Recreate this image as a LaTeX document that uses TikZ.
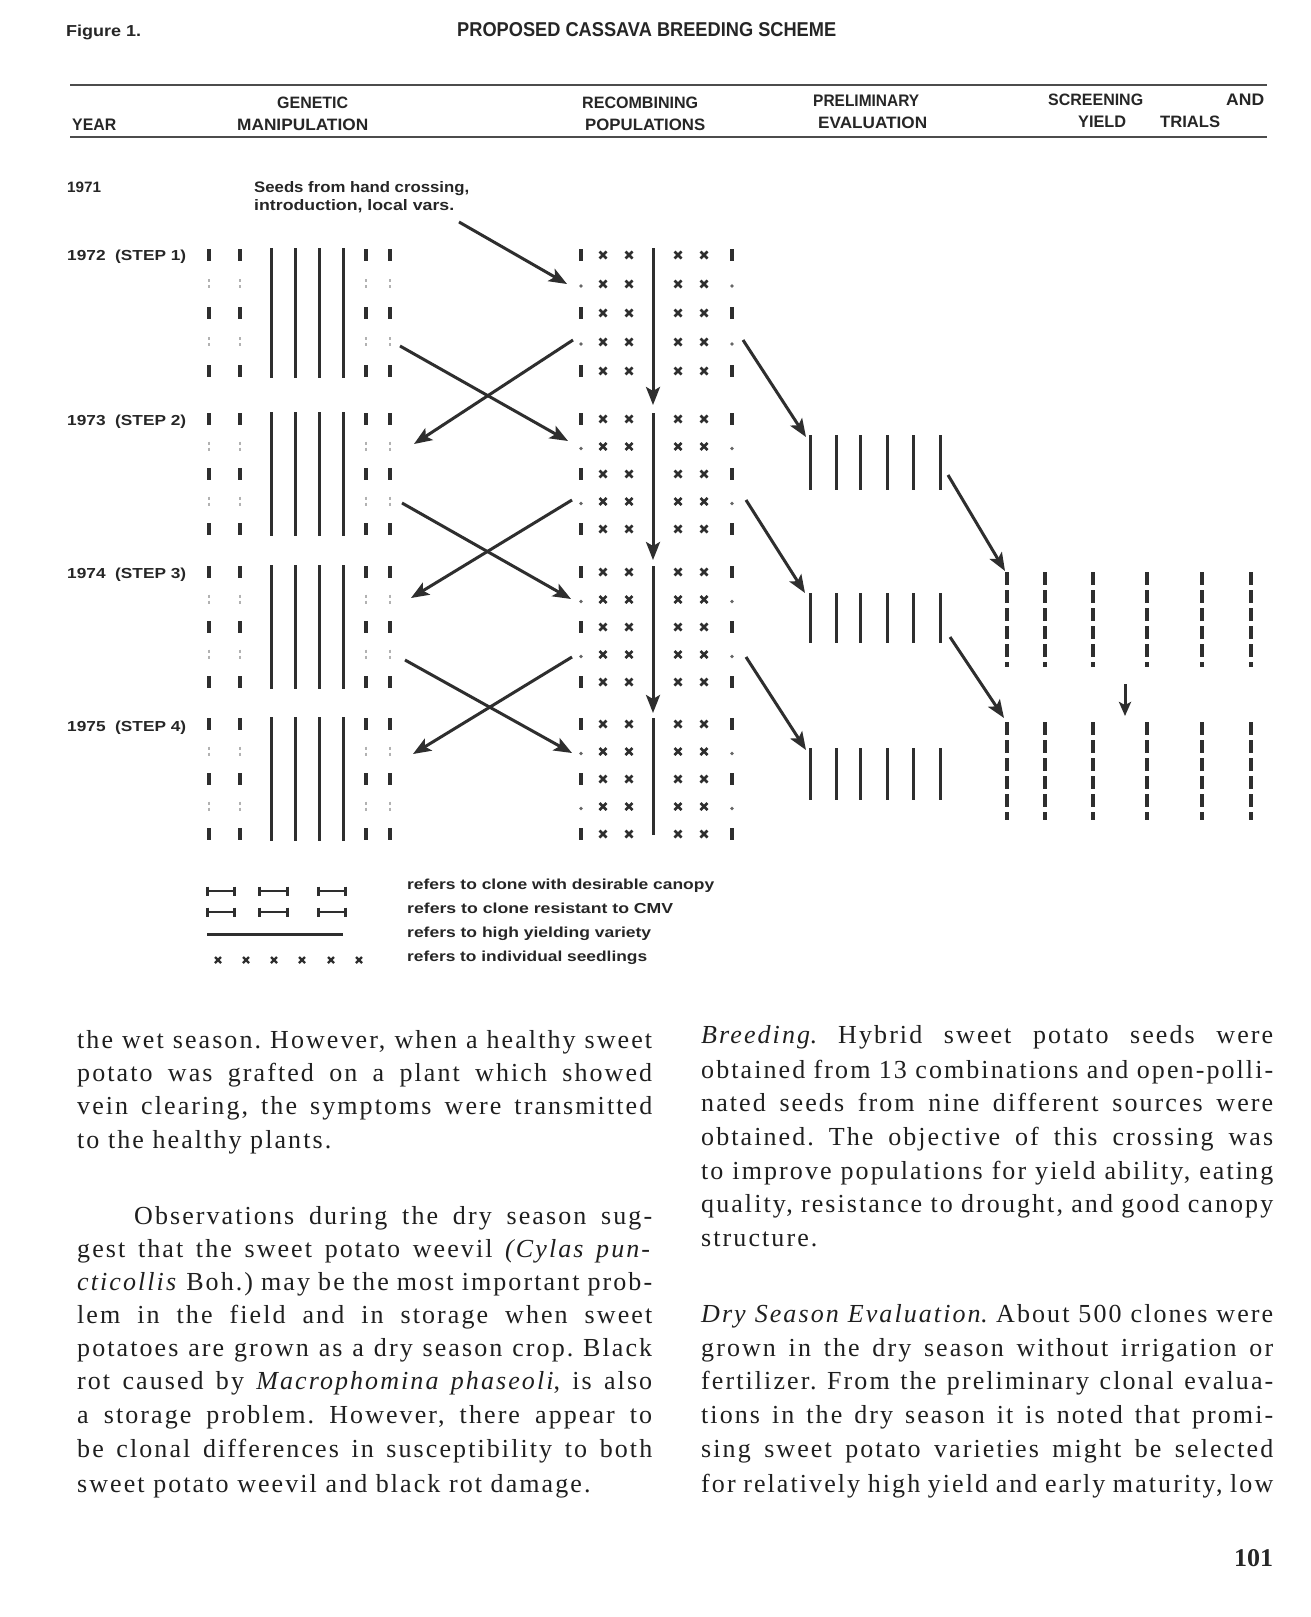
\documentclass[tikz,border=0pt]{standalone}
\usepackage{fontspec}
\usepackage{graphicx}
\setmainfont{Liberation Serif}
\newfontfamily\hsans{Liberation Sans}
\newfontfamily\bodyfont[LetterSpace=8]{Liberation Serif}
\usetikzlibrary{arrows.meta}
\frenchspacing
\newcommand\hd[3]{\resizebox{#1pt}{#2pt}{\hsans\bfseries #3}}
\newcommand\jl[2]{\makebox[#1pt][s]{#2}}
\tikzset{
 ink/.style={draw=black!82},
 bar/.style={ink, line width=3.6pt},
 faint/.style={draw=black!30, line width=1.3pt},
 longln/.style={ink, line width=3pt},
 xm/.style={ink, line width=2.6pt},
 arr/.style={ink, line width=3pt, -{Stealth[length=18pt,width=14pt,inset=4pt]}},
 lab/.style={inner sep=0pt, anchor=base west, text=black!85},
 body/.style={inner sep=0pt, anchor=base west, text=black!88, font=\fontsize{26}{30}\bodyfont\frenchspacing},
 dsh/.style={ink, line width=3.4pt, dash pattern=on 13pt off 5pt},
}
\begin{document}
\begin{tikzpicture}[x=1pt,y=-1pt]
\useasboundingbox[fill=white] (0,0) rectangle (1311,1617);
% headings
\node[lab] (fig) at (66,36.5) {\hd{75}{11.5}{Figure 1.}};
\node[lab] (title) at (457,36) {\hd{379}{14}{PROPOSED CASSAVA BREEDING SCHEME}};
\draw[draw=black!70, line width=1.6pt] (70,85) coordinate (rta) -- (1267,85) coordinate (rtb);
\draw[draw=black!70, line width=1.6pt] (70,137) coordinate (rba) -- (1267,137) coordinate (rbb);
\node[lab] (hgen) at (277,108) {\hd{71}{11.5}{GENETIC}};
\node[lab] (hman) at (237,130) {\hd{131}{11.5}{MANIPULATION}};
\node[lab] (hyear) at (72,130) {\hd{44}{11.5}{YEAR}};
\node[lab] (hrec) at (582,108) {\hd{116}{11.5}{RECOMBINING}};
\node[lab] (hpop) at (585,130) {\hd{120}{11.5}{POPULATIONS}};
\node[lab] (hpre) at (813,106) {\hd{106}{11.5}{PRELIMINARY}};
\node[lab] (heva) at (818,128) {\hd{109}{11.5}{EVALUATION}};
\node[lab] (hscr) at (1048,105) {\hd{95}{11.5}{SCREENING}};
\node[lab] (hand) at (1226,105) {\hd{38}{11.5}{AND}};
\node[lab] (hyie) at (1078,127) {\hd{48}{11.5}{YIELD}};
\node[lab] (htri) at (1160,127) {\hd{60}{11.5}{TRIALS}};
% years
\node[lab] (y71) at (67,192) {\hd{34}{10.5}{1971}};
\node[lab] (y72) at (67,260) {\hd{119}{10.5}{1972 \ (STEP 1)}};
\node[lab] (y73) at (67,425) {\hd{119}{10.5}{1973 \ (STEP 2)}};
\node[lab] (y74) at (67,578) {\hd{119}{10.5}{1974 \ (STEP 3)}};
\node[lab] (y75) at (67,731) {\hd{119}{10.5}{1975 \ (STEP 4)}};
\node[lab] (seeds1) at (254,192) {\hd{215}{11}{Seeds from hand crossing,}};
\node[lab] (seeds2) at (254,210) {\hd{200}{11}{introduction, local vars.}};
% blocks
\foreach \b/\yo/\dy in {1/255/29, 2/419/27.5, 3/572/27.5, 4/724/27.5} {
  \foreach \x in {209,240,366,390} {
    \foreach \r in {0,2,4} \draw[bar] (\x,\yo+\r*\dy-6) -- (\x,\yo+\r*\dy+6);
    \foreach \r in {1,3} {
      \draw[faint] (\x,\yo+\r*\dy-5) -- (\x,\yo+\r*\dy-2);
      \draw[faint] (\x,\yo+\r*\dy+1) -- (\x,\yo+\r*\dy+4);
    }
  }
  \foreach \x in {271,295,319,343} \draw[longln] (\x,\yo-7) -- (\x,\yo+4*\dy+7);
  \foreach \x in {581,732} {
    \foreach \r in {0,2,4} \draw[bar] (\x,\yo+\r*\dy-6) -- (\x,\yo+\r*\dy+6);
    \foreach \r in {1,3} \fill[black!60] (\x,\yo+\r*\dy+2) circle (1.8pt);
  }
  \foreach \x in {603,629,678,704} \foreach \r in {0,...,4} {
    \draw[xm] (\x-3.5,\yo+\r*\dy-3.5) -- (\x+3.5,\yo+\r*\dy+3.5)
              (\x-3.5,\yo+\r*\dy+3.5) -- (\x+3.5,\yo+\r*\dy-3.5);
  }
}
% central line of recombining populations
\coordinate (c1a) at (653,248); \coordinate (c1b) at (653,405);
\coordinate (c2a) at (653,413); \coordinate (c2b) at (653,560);
\coordinate (c3a) at (653,566); \coordinate (c3b) at (653,713);
\coordinate (c4a) at (653,718); \coordinate (c4b) at (653,835);
\draw[arr] (c1a) -- (c1b);
\draw[arr] (c2a) -- (c2b);
\draw[arr] (c3a) -- (c3b);
\draw[longln] (c4a) -- (c4b);
% preliminary evaluation
\foreach \ya/\yb in {435/490, 593/643, 748/800}
  \foreach \x in {810,836,860,887,913,940} \draw[longln] (\x,\ya) -- (\x,\yb);
% screening
\foreach \ya/\yb in {572/667, 722/820}
  \foreach \x in {1007,1045,1093,1147,1202,1251} \draw[dsh] (\x,\ya) -- (\x,\yb);
% arrows
\coordinate (s0) at (459,222); \coordinate (s1) at (567,284);
\draw[arr] (s0) -- (s1);
\coordinate (xa1s) at (400,346); \coordinate (xa1t) at (568,441);
\coordinate (xb1s) at (573,340); \coordinate (xb1t) at (414,444);
\coordinate (xa2s) at (402,503); \coordinate (xa2t) at (571,599);
\coordinate (xb2s) at (572,500); \coordinate (xb2t) at (411,598);
\coordinate (xa3s) at (405,660); \coordinate (xa3t) at (572,753);
\coordinate (xb3s) at (572,657); \coordinate (xb3t) at (413,754);
\foreach \i in {1,2,3} {
  \draw[arr] (xa\i s) -- (xa\i t);
  \draw[arr] (xb\i s) -- (xb\i t);
}
\coordinate (p1s) at (743,340); \coordinate (p1t) at (806,437);
\coordinate (p2s) at (746,500); \coordinate (p2t) at (805,593);
\coordinate (p3s) at (746,657); \coordinate (p3t) at (806,750);
\foreach \i in {1,2,3} \draw[arr] (p\i s) -- (p\i t);
\coordinate (q1s) at (948,475); \coordinate (q1t) at (1005,571);
\coordinate (q2s) at (950,637); \coordinate (q2t) at (1004,718);
\draw[arr] (q1s) -- (q1t);
\draw[arr] (q2s) -- (q2t);
\coordinate (d0) at (1125,684); \coordinate (d1) at (1125,716);
\draw[ink, line width=3pt, -{Stealth[length=14pt,width=12pt,inset=3pt]}] (d0) -- (d1);
% legend
\foreach \xa/\xb in {207/234, 259/287, 318/345} \foreach \y in {891,912} {
  \draw[ink, line width=2.6pt] (\xa,\y) -- (\xb,\y);
  \draw[ink, line width=3pt] (\xa,\y-4.5) -- (\xa,\y+4.5);
  \draw[ink, line width=3pt] (\xb,\y-4.5) -- (\xb,\y+4.5);
}
\draw[ink, line width=3pt] (207,934) -- (343,934);
\foreach \x in {218,246,274,302,331,359}
  \draw[xm, line width=2.2pt] (\x-3,957) -- (\x+3,963) (\x-3,963) -- (\x+3,957);
\node[lab] (lg1) at (407,889) {\hd{307}{10.5}{refers to clone with desirable canopy}};
\node[lab] (lg2) at (407,913) {\hd{266}{10.5}{refers to clone resistant to CMV}};
\node[lab] (lg3) at (407,937) {\hd{244}{10.5}{refers to high yielding variety}};
\node[lab] (lg4) at (407,961) {\hd{240}{10.5}{refers to individual seedlings}};
% body text, left column
\node[body] (L1) at (77,1048) {\jl{575}{the wet season. However, when a healthy sweet}};
\node[body] (L2) at (77,1081) {\jl{575}{potato was grafted on a plant which showed}};
\node[body] (L3) at (77,1114) {\jl{575}{vein clearing, the symptoms were transmitted}};
\node[body] (L4) at (77,1148) {to the healthy plants.};
\node[body] (L5) at (134,1224) {\jl{518}{Observations during the dry season sug-}};
\node[body] (L6) at (77,1257) {\jl{575}{gest that the sweet potato weevil \textit{(Cylas pun-}}};
\node[body] (L7) at (77,1290) {\jl{575}{\textit{cticollis} Boh.) may be the most important prob-}};
\node[body] (L8) at (77,1323) {\jl{575}{lem in the field and in storage when sweet}};
\node[body] (L9) at (77,1356) {\jl{575}{potatoes are grown as a dry season crop. Black}};
\node[body] (L10) at (77,1389) {\jl{575}{rot caused by \textit{Macrophomina phaseoli}, is also}};
\node[body] (L11) at (77,1423) {\jl{575}{a storage problem. However, there appear to}};
\node[body] (L12) at (77,1457) {\jl{575}{be clonal differences in susceptibility to both}};
\node[body] (L13) at (77,1492) {sweet potato weevil and black rot damage.};
% body text, right column
\node[body] (R1) at (701,1043) {\jl{572}{\textit{Breeding}. Hybrid sweet potato seeds were}};
\node[body] (R2) at (701,1078) {\jl{572}{obtained from 13 combinations and open-polli-}};
\node[body] (R3) at (701,1111) {\jl{572}{nated seeds from nine different sources were}};
\node[body] (R4) at (701,1145) {\jl{572}{obtained. The objective of this crossing was}};
\node[body] (R5) at (701,1179) {\jl{572}{to improve populations for yield ability, eating}};
\node[body] (R6) at (701,1212) {\jl{572}{quality, resistance to drought, and good canopy}};
\node[body] (R7) at (701,1246) {structure.};
\node[body] (R8) at (701,1322) {\jl{572}{\textit{Dry Season Evaluation}. About 500 clones were}};
\node[body] (R9) at (701,1356) {\jl{572}{grown in the dry season without irrigation or}};
\node[body] (R10) at (701,1389) {\jl{572}{fertilizer. From the preliminary clonal evalua-}};
\node[body] (R11) at (701,1423) {\jl{572}{tions in the dry season it is noted that promi-}};
\node[body] (R12) at (701,1457) {\jl{572}{sing sweet potato varieties might be selected}};
\node[body] (R13) at (701,1492) {\jl{572}{for relatively high yield and early maturity, low}};
\node[lab] (pg) at (1234,1566) {\resizebox{39pt}{17pt}{\bfseries 101}};
\end{tikzpicture}
\end{document}
